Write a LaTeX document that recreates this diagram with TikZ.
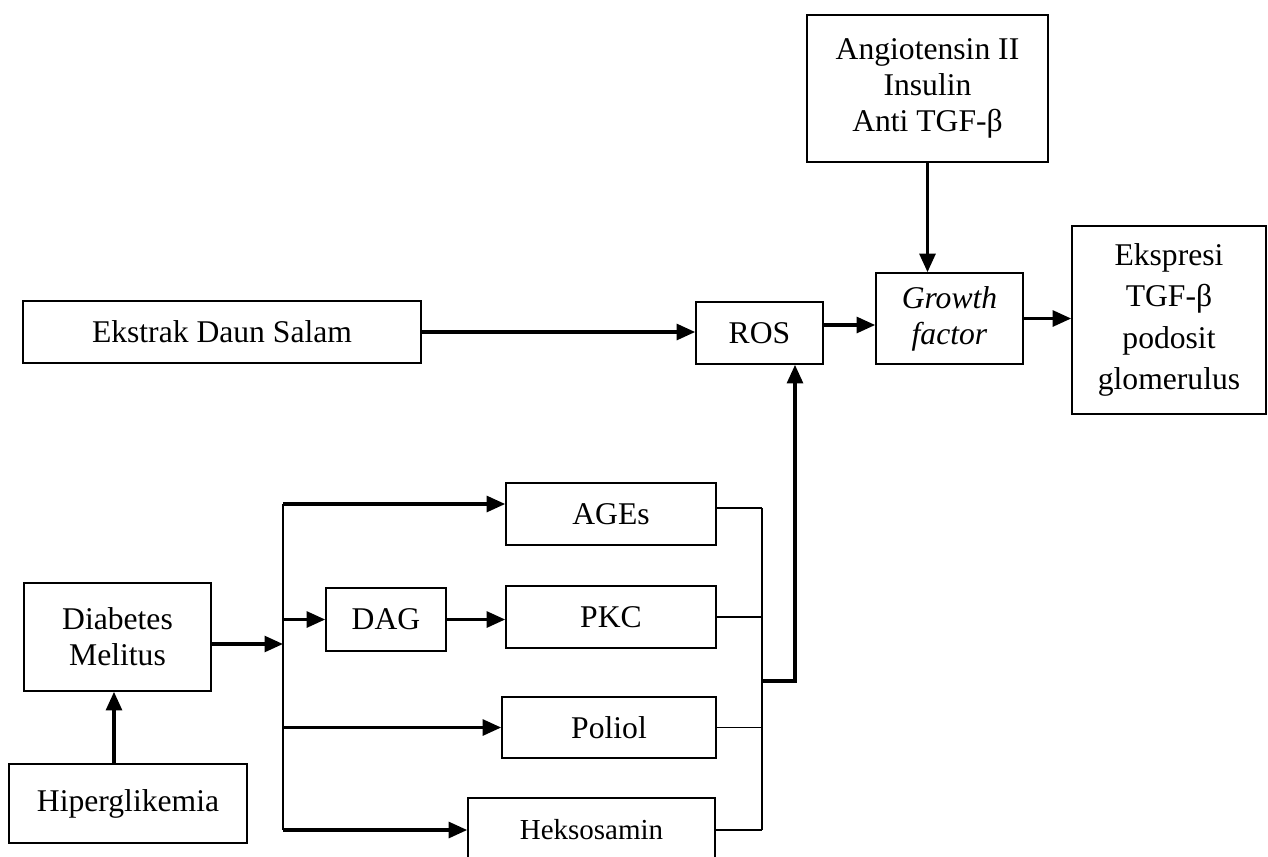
\documentclass[tikz,border=0pt]{standalone}
\usepackage{fontspec}
\setmainfont{Liberation Serif}
\usepackage{tikz}
\usetikzlibrary{arrows.meta,positioning,calc}

\tikzset{
    box/.style={draw, line width=0.95pt, inner sep=0pt, align=center,
        font=\fontsize{18}{20.5}\selectfont},
    arr/.style={-{Triangle[length=10.5pt,width=9pt]}, line width=1.8pt},
    link/.style={line width=0.9pt}
}

\begin{document}
\begin{tikzpicture}[x=0.02cm, y=-0.02cm]
    \useasboundingbox (0,0) rectangle (1268,856);

    % Upper chain
    \node[box, minimum width=4.82cm, minimum height=2.94cm] (ang) at (927.5,88.5)
        {Angiotensin II\\Insulin\\Anti TGF-β};
    \node[box, minimum width=2.94cm, minimum height=1.82cm] (gf) at (949.5,318.5)
        {\textit{Growth}\\\textit{factor}};
    \node[box, minimum width=3.88cm, minimum height=3.76cm,
          font=\fontsize{18}{23.5}\selectfont] (eks) at (1169,320)
        {Ekspresi\\TGF-β\\podosit\\glomerulus};
    \node[box, minimum width=2.54cm, minimum height=1.24cm] (ros) at (759.5,333) {ROS};
    \node[box, minimum width=7.96cm, minimum height=1.24cm] (salam) at (222,332)
        {Ekstrak Daun Salam};

    % Pathways
    \node[box, minimum width=4.2cm, minimum height=1.24cm] (ages) at (611,514) {AGEs};
    \node[box, minimum width=2.4cm, minimum height=1.26cm] (dag) at (386,619.5) {DAG};
    \node[box, minimum width=4.2cm, minimum height=1.24cm] (pkc) at (611,617) {PKC};
    \node[box, minimum width=4.28cm, minimum height=1.22cm] (poliol) at (609,727.5) {Poliol};
    \node[box, minimum width=4.94cm, minimum height=1.28cm,
          font=\fontsize{16.5}{19}\selectfont] (heks) at (591.5,830) {Heksosamin};

    % Left side
    \node[box, minimum width=3.74cm, minimum height=2.16cm] (dm) at (117.5,637)
        {Diabetes\\Melitus};
    \node[box, minimum width=4.76cm, minimum height=1.58cm] (hiper) at (128,803.5)
        {Hiperglikemia};

    \coordinate (br) at (283,644);
    \coordinate (btop) at (283,504);
    \coordinate (col) at (762,681);
    \coordinate (up) at (795,681);

    % Connectors
    \draw[arr] (salam.east) -- (salam.east -| ros.west);
    \draw[arr] ([yshift=0.16cm]ros.east) -- ([yshift=0.16cm]ros.east -| gf.west);
    \draw[arr] (gf.east) -- (gf.east -| eks.west);
    \draw[arr] (ang.south) -- (ang.south |- gf.north);

    \draw[arr] (hiper.north -| 114,0) -- (dm.south -| 114,0);
    \draw[arr] (dm.east |- br) -- (br);
    \draw[link, line width=1.2pt] (btop) -- (br |- heks);
    \draw[arr] (btop) -- (btop -| ages.west);
    \draw[arr] (br |- dag) -- (dag.west);
    \draw[arr] (dag.east) -- (dag.east -| pkc.west);
    \draw[arr] (br |- poliol) -- (poliol.west);
    \draw[arr] (br |- heks) -- (heks.west);

    % Collector to ROS
    \draw[link] ([yshift=0.12cm]ages.east) -- ([yshift=0.12cm]ages.east -| col);
    \draw[link] (pkc.east) -- (pkc.east -| col);
    \draw[link] (poliol.east) -- (poliol.east -| col);
    \draw[link] (heks.east) -- (heks.east -| col);
    \draw[link] ([yshift=0.12cm]ages.east -| col) -- (heks.east -| col);
    \draw[arr] (col) -- (up) -- (up |- ros.south);
\end{tikzpicture}
\end{document}
